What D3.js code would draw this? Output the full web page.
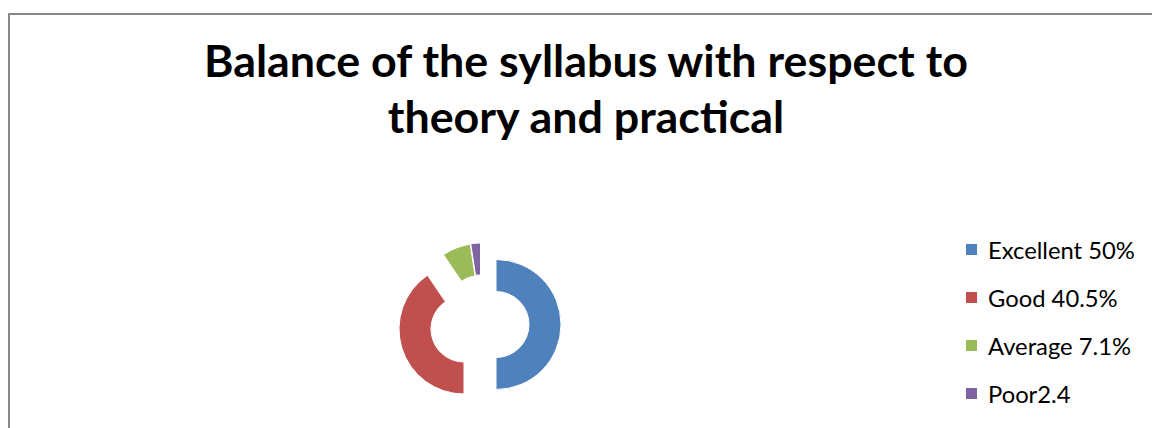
<!DOCTYPE html>
<html>
<head>
<meta charset="utf-8">
<script src="https://cdn.jsdelivr.net/npm/d3@7"></script>
<style>
  html, body { margin: 0; padding: 0; background: #fff; }
  svg { display: block; }
</style>
</head>
<body>
<script>
// ---- data ----
const categories = ["Excellent", "Good", "Average", "Poor"];
const values = [50, 40.5, 7.1, 2.4];
const legendLabels = ["Excellent 50%", "Good 40.5%", "Average 7.1%", "Poor2.4"];
const titleLines = ["Balance of the syllabus with respect to", "theory and practical"];

// ---- style / layout ----
const colors = ["#4F81BD", "#C0504D", "#9BBB59", "#8064A2"];
const explode = [[17, 0], [-15, 4.5], [1, -16], [1.5, -16.5]];
const W = 1152, H = 428;
const cx = 479, cy = 324.5;

const svg = d3.select("body").append("svg").attr("width", W).attr("height", H);

// chart border
svg.append("rect")
  .attr("x", 9).attr("y", 14).attr("width", W + 20).attr("height", H + 20)
  .attr("fill", "none").attr("stroke", "#878787").attr("stroke-width", 2);

// title
const title = svg.append("g");
const t1 = title.append("text").text(titleLines[0])
  .attr("x", 586).attr("y", 77).attr("text-anchor", "middle")
  .style("font-family", "Lato, 'Open Sans', sans-serif").style("font-weight", 700)
  .style("font-size", "40px").attr("fill", "#000");
const w1 = t1.node().getComputedTextLength();
const fs = 40 * 764 / w1;
t1.style("font-size", fs + "px");
title.append("text").text(titleLines[1])
  .attr("x", 586).attr("y", 133).attr("text-anchor", "middle")
  .style("font-family", "Lato, 'Open Sans', sans-serif").style("font-weight", 700)
  .style("font-size", fs + "px").attr("fill", "#000");

// donut
const pie = d3.pie().sort(null).startAngle(0).endAngle(2 * Math.PI);
const arc = d3.arc().innerRadius(33).outerRadius(65);
const arcs = pie(values);
svg.append("g").selectAll("path").data(arcs).join("path")
  .attr("transform", (d, i) => `translate(${cx + explode[i][0]},${cy + explode[i][1]})`)
  .attr("d", arc)
  .attr("fill", (d, i) => colors[i])
  .attr("stroke", "#fff").attr("stroke-width", 1);

// legend
const lg = svg.append("g");
const items = lg.selectAll("g").data(categories).join("g")
  .attr("transform", (d, i) => `translate(966,${244 + i * 48})`);
items.append("rect").attr("width", 11).attr("height", 11)
  .attr("fill", (d, i) => colors[i]);
const texts = items.append("text").text((d, i) => legendLabels[i])
  .attr("x", 22).attr("y", 15)
  .style("font-family", "Lato, 'Open Sans', sans-serif")
  .style("font-size", "20px").attr("fill", "#000");
const lw = texts.nodes()[0].getComputedTextLength();
texts.style("font-size", (20 * 147 / lw) + "px");
</script>
</body>
</html>
